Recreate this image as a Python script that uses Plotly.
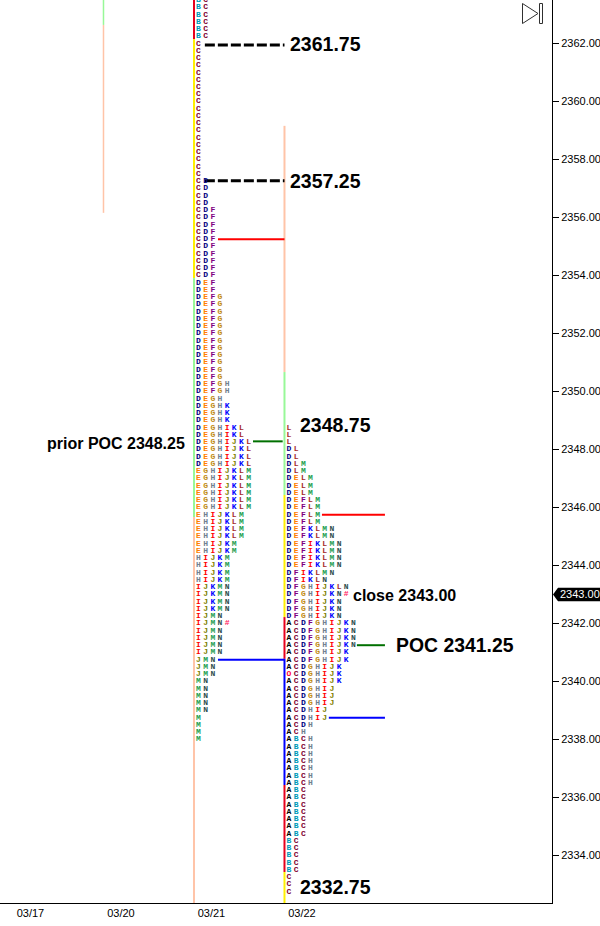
import plotly.graph_objects as go

# x axis is in sessions: 03/17 = 0, 03/20 = 1, 03/21 = 2, 03/22 = 3
session_labels = ["03/17", "03/20", "03/21", "03/22"]
session_index = [0, 1, 2, 3]

# TPO rows, one entry per price level
prices_0321 = [
    2363.5, 2363.25, 2363.0, 2362.75, 2362.5, 2362.25,
    2362.0, 2361.75, 2361.5, 2361.25, 2361.0, 2360.75, 2360.5, 2360.25, 2360.0, 2359.75,
    2359.5, 2359.25, 2359.0, 2358.75, 2358.5, 2358.25, 2358.0, 2357.75, 2357.5,
    2357.25, 2357.0, 2356.75, 2356.5,
    2356.25, 2356.0, 2355.75, 2355.5, 2355.25, 2355.0, 2354.75, 2354.5, 2354.25, 2354.0,
    2353.75, 2353.5,
    2353.25, 2353.0, 2352.75, 2352.5, 2352.25, 2352.0, 2351.75, 2351.5, 2351.25, 2351.0, 2350.75, 2350.5,
    2350.25, 2350.0,
    2349.75,
    2349.5, 2349.25, 2349.0,
    2348.75, 2348.5,
    2348.25, 2348.0, 2347.75, 2347.5,
    2347.25, 2347.0, 2346.75, 2346.5, 2346.25, 2346.0,
    2345.75, 2345.5, 2345.25, 2345.0,
    2344.75, 2344.5,
    2344.25, 2344.0, 2343.75, 2343.5,
    2343.25, 2343.0, 2342.75, 2342.5,
    2342.25,
    2342.0,
    2341.75, 2341.5, 2341.25, 2341.0,
    2340.75, 2340.5, 2340.25,
    2340.0, 2339.75, 2339.5, 2339.25, 2339.0,
    2338.75, 2338.5, 2338.25, 2338.0,
]
rows_0321 = (
    ["BC"] * 6 + ["C"] * 19 + ["CD"] * 4 + ["CDF"] * 10 + ["DEF"] * 2 + ["DEFG"] * 12
    + ["DEFGH"] * 2 + ["DEGH"] + ["DEGHK"] * 3 + ["DEGHIKL"] * 2 + ["DEGHIJKL"] * 4
    + ["EGHIJKLM"] * 6 + ["EHIJKLM"] * 4 + ["EHIJKM"] * 2 + ["HIJKM"] * 4 + ["IJKMN"] * 4
    + ["IJMN"] + ["IJMN#"] + ["IJMN"] * 4 + ["JMN"] * 3 + ["MN"] * 5 + ["M"] * 4
)

prices_0322 = [
    2348.75, 2348.5, 2348.25,
    2348.0, 2347.75,
    2347.5, 2347.25,
    2347.0, 2346.75, 2346.5,
    2346.25, 2346.0, 2345.75, 2345.5,
    2345.25, 2345.0,
    2344.75, 2344.5, 2344.25, 2344.0,
    2343.75,
    2343.5,
    2343.25,
    2343.0,
    2342.75, 2342.5, 2342.25,
    2342.0, 2341.75, 2341.5, 2341.25,
    2341.0, 2340.75,
    2340.5,
    2340.25,
    2340.0,
    2339.75, 2339.5, 2339.25,
    2339.0, 2338.75,
    2338.5,
    2338.25,
    2338.0, 2337.75, 2337.5, 2337.25, 2337.0, 2336.75, 2336.5,
    2336.25, 2336.0, 2335.75, 2335.5, 2335.25, 2335.0, 2334.75,
    2334.5, 2334.25, 2334.0, 2333.75, 2333.5,
    2333.25, 2333.0, 2332.75,
]
rows_0322 = (
    ["L"] * 3 + ["DL"] * 2 + ["DLM"] * 2 + ["DELM"] * 3 + ["DEFLM"] * 4 + ["DEFKLMN"] * 2
    + ["DEFIKLMN"] * 4 + ["DFIKLMN"] + ["DFIKLN"] + ["DFGHIJKLN"] + ["DFGHIJKN#"]
    + ["DFGHIJKN"] * 3 + ["ACDFGHIJKN"] * 4 + ["ACDFGHIJK"] * 2 + ["ACDGHIJK"] + ["OCDGHIJK"]
    + ["ACDGHIJK"] + ["ACDGHIJ"] * 3 + ["ACDHIJ"] * 2 + ["ACDH"] + ["ACH"] + ["ABCH"] * 7
    + ["ABC"] * 7 + ["BC"] * 5 + ["C"] * 3
)

letter_colors = {
    "A": "#000000", "B": "#0099B8", "C": "#800030", "D": "#000080", "E": "#FF8000",
    "F": "#800080", "G": "#C08A10", "H": "#708090", "I": "#FF0000", "J": "#808000",
    "K": "#0000FF", "L": "#A52A2A", "M": "#1E9E50", "N": "#2F4F4F", "O": "#FF0040",
    "#": "#FF2060",
}

# vertical session bars: price edges from top to bottom and one colour per piece
bar_0320_edges = [2363.5, 2362.64, 2356.16]
bar_0320_colors = ["#98F898", "#FFC4A8"]
bar_0321_edges = [2363.5, 2362.15, 2353.91, 2345.67, 2332.36]
bar_0321_colors = ["#E8001C", "#FFF000", "#98F898", "#FFC4A8"]
bar_0322_edges = [2359.16, 2350.67, 2346.43, 2342.22, 2340.78, 2336.43, 2333.43, 2332.36]
bar_0322_colors = ["#FFC4A8", "#98F898", "#FFF000", "#E8001C", "#0000FF", "#E8001C", "#FFF000"]

# horizontal level lines
level_prices = [2361.95, 2357.27, 2355.25, 2348.28, 2340.75, 2345.75, 2341.25, 2338.75]
level_x0 = [2.12, 2.12, 2.265, 2.652, 2.265, 3.414, 3.80, 3.49]
level_x1 = [3.0, 3.0, 3.0, 2.98, 3.0, 4.11, 4.11, 4.11]
level_colors = ["black", "black", "#FF0000", "#007000", "#0000FF", "#FF0000", "#007000", "#0000FF"]
level_dashes = ["10px,3px", "10px,3px", "solid", "solid", "solid", "solid", "solid", "solid"]
level_widths = [3, 3, 2, 2, 2, 2, 2, 2]

# hand written labels
note_text = ["2361.75", "2357.25", "2348.75", "2332.75", "prior POC 2348.25", "close 2343.00", "POC 2341.25"]
note_x = [3.07, 3.07, 3.18, 3.18, 0.386, 3.766, 4.24]
note_y = [2362.0, 2357.25, 2348.85, 2332.9, 2348.2, 2342.97, 2341.25]
note_size = [19.5, 19.5, 19.5, 19.5, 16, 16, 19.4]

close_price = 2343.0

COL_OFFSET = 0.05
COL_STEP = 0.079
PLOT_W = 552
PLOT_H = 903


def add_profile(fig_points, day, prices, rows):
    for price, row in zip(prices, rows):
        for col, letter in enumerate(row):
            pts = fig_points.setdefault(letter, ([], []))
            pts[0].append(day + COL_OFFSET + col * COL_STEP)
            pts[1].append(price)


def add_bar(fig, day, edges, colors, width):
    for i, color in enumerate(colors):
        fig.add_trace(go.Scatter(x=[day, day], y=[edges[i], edges[i + 1]], mode="lines",
                                 line=dict(color=color, width=width), hoverinfo="skip"))


fig = go.Figure()
add_bar(fig, session_index[1], bar_0320_edges, bar_0320_colors, 1.5)
add_bar(fig, session_index[2], bar_0321_edges, bar_0321_colors, 2)
add_bar(fig, session_index[3], bar_0322_edges, bar_0322_colors, 2)

for i in range(len(level_prices)):
    fig.add_trace(go.Scatter(x=[level_x0[i], level_x1[i]], y=[level_prices[i], level_prices[i]],
                             mode="lines", hoverinfo="skip",
                             line=dict(color=level_colors[i], width=level_widths[i], dash=level_dashes[i])))

points = {}
add_profile(points, session_index[2], prices_0321, rows_0321)
add_profile(points, session_index[3], prices_0322, rows_0322)
for letter, (xs, ys) in points.items():
    fig.add_trace(go.Scatter(x=xs, y=ys, mode="text", text=[f"<b>{letter}</b>"] * len(xs),
                             textposition="middle center", hoverinfo="skip",
                             textfont=dict(family="Liberation Mono", size=8, color=letter_colors[letter])))

for i in range(len(note_text)):
    fig.add_annotation(x=note_x[i], y=note_y[i], text="<b>" + note_text[i] + "</b>", showarrow=False,
                       xanchor="left", yanchor="middle", xshift=-3,
                       font=dict(family="Liberation Sans", size=note_size[i], color="black"))

# last price tag on the axis
tag_h = 0.23
fig.add_shape(type="path", xref="paper", yref="y", fillcolor="black", line=dict(width=0),
              path=f"M {553 / PLOT_W} {close_price} L {558 / PLOT_W} {close_price + tag_h} "
                   f"L {600 / PLOT_W} {close_price + tag_h} L {600 / PLOT_W} {close_price - tag_h} "
                   f"L {558 / PLOT_W} {close_price - tag_h} Z")
fig.add_annotation(xref="paper", yref="y", x=560 / PLOT_W, y=close_price, text=f"{close_price:.2f}",
                   showarrow=False, xanchor="left", yanchor="middle", xshift=-2,
                   font=dict(family="Liberation Sans", size=11, color="white"))

# go-to-end button, top right
icon_line = dict(color="#303030", width=1)
fig.add_shape(type="path", xref="paper", yref="paper", line=icon_line,
              path=f"M {522.5 / PLOT_W} {1 - 3.5 / PLOT_H} L {538 / PLOT_W} {1 - 13.5 / PLOT_H} "
                   f"L {522.5 / PLOT_W} {1 - 23.5 / PLOT_H} Z")
fig.add_shape(type="rect", xref="paper", yref="paper", line=icon_line,
              x0=539.5 / PLOT_W, x1=542.5 / PLOT_W, y0=1 - 23.5 / PLOT_H, y1=1 - 3.5 / PLOT_H)

fig.update_layout(
    width=600, height=926, showlegend=False,
    paper_bgcolor="white", plot_bgcolor="white",
    margin=dict(l=0, r=48, t=0, b=23, pad=0),
    font=dict(family="Liberation Sans", size=11, color="black"),
    xaxis=dict(range=[-0.1436, 5.956], showgrid=False, zeroline=False, showline=True,
               linecolor="black", linewidth=1, ticks="",
               tickvals=[d + 0.193 for d in session_index], ticktext=session_labels),
    yaxis=dict(range=[2332.36, 2363.5], side="right", showgrid=False, zeroline=False,
               showline=True, linecolor="black", linewidth=1, ticks="outside", ticklen=6,
               tickcolor="black", tick0=2334, dtick=2, tickformat=".2f"),
)

fig.write_html("out.html", config=dict(displayModeBar=False),
               post_script="document.body.style.margin='0';")
